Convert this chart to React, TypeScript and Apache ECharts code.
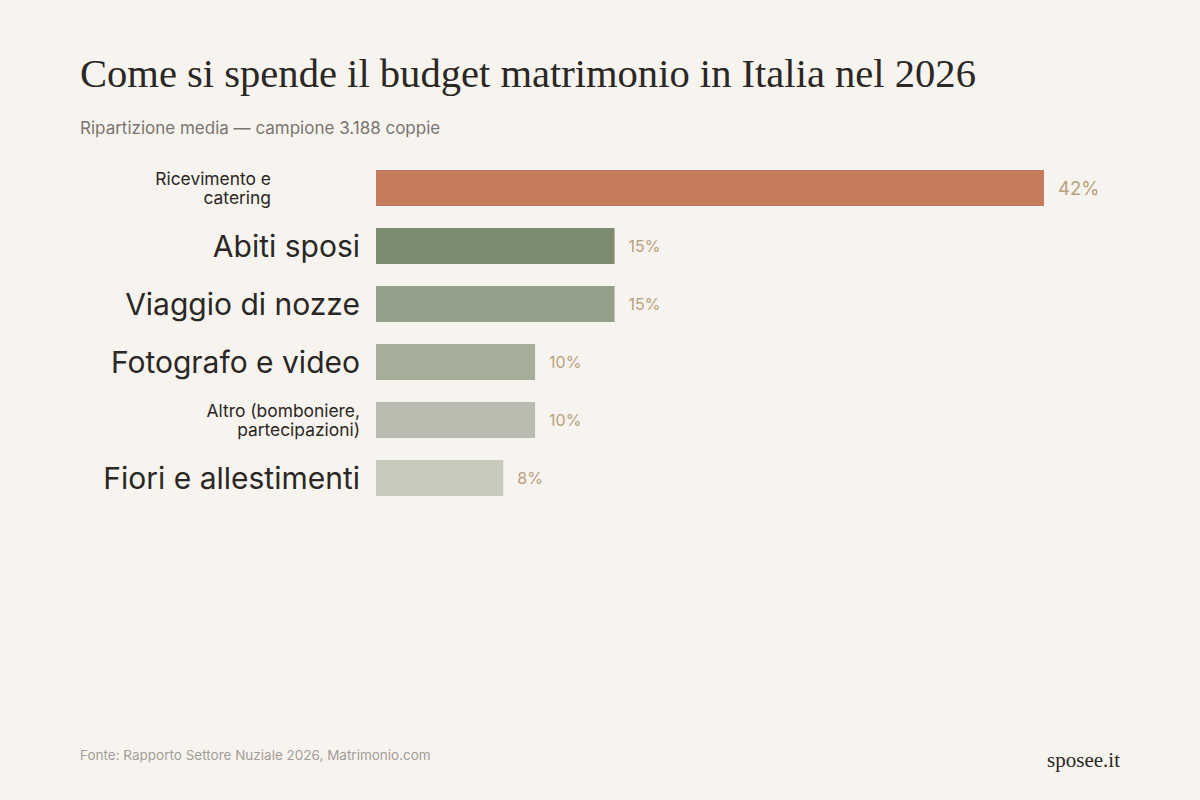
import React, { useEffect, useRef } from "react";
import * as echarts from "echarts";

const categories = [
  "Ricevimento e\ncatering",
  "Abiti sposi",
  "Viaggio di nozze",
  "Fotografo e video",
  "Altro (bomboniere,\npartecipazioni)",
  "Fiori e allestimenti",
];
const values = [42, 15, 15, 10, 10, 8];
const barColors = ["#c77b5d", "#7a8b70", "#94a089", "#a6ae9b", "#b9bdaf", "#c7c9bc"];
const labelStyles = ["smallPad", "big", "big", "big", "small", "big"];
const valueLabelSizes = [18.5, 16, 16, 16, 16, 16];

const TITLE = "Come si spende il budget matrimonio in Italia nel 2026";
const SUBTITLE = "Ripartizione media — campione 3.188 coppie";
const SOURCE = "Fonte: Rapporto Settore Nuziale 2026, Matrimonio.com";
const BRAND = "sposee.it";

export default function App() {
  const ref = useRef<HTMLDivElement>(null);
  useEffect(() => {
    document.body.style.margin = "0";
    const chart = echarts.init(ref.current!, null, { renderer: "svg" });
    const sans = "Inter, 'Noto Sans', sans-serif";
    const serif = "'Liberation Serif', 'DejaVu Serif', serif";
    chart.setOption({
      animation: false,
      backgroundColor: "#f7f4ef",
      grid: { left: 376, top: 159, height: 348, right: 156, containLabel: false },
      xAxis: {
        type: "value",
        min: 0,
        max: 42,
        show: false,
      },
      yAxis: {
        type: "category",
        inverse: true,
        data: categories,
        axisLine: { show: false },
        axisTick: { show: false },
        splitLine: { show: false },
        axisLabel: {
          margin: 16,
          align: "right",
          formatter: (v: string) => {
            const idx = categories.indexOf(v);
            const st = labelStyles[idx] || "big";
            return v
              .split("\n")
              .map((line) => `{${st}|${line}}`)
              .join("\n");
          },
          rich: {
            big: { fontSize: 30, fontFamily: sans, color: "#2b2724", lineHeight: 36 },
            small: { fontSize: 17.4, fontFamily: sans, color: "#2b2724", lineHeight: 19, align: "right" },
            smallPad: {
              fontSize: 17.4,
              fontFamily: sans,
              color: "#2b2724",
              lineHeight: 19,
              align: "right",
              padding: [0, 89, 0, 0],
            },
          },
        },
      },
      series: [
        {
          type: "bar",
          barWidth: 36,
          data: values.map((v, i) => ({
            value: v,
            itemStyle: { color: barColors[i] },
            label: { fontSize: valueLabelSizes[i] },
          })),
          label: {
            show: true,
            position: "right",
            distance: 14,
            formatter: "{c}%",
            color: "#b9a07c",
            fontFamily: sans,
          },
        },
      ],
      graphic: [
        {
          type: "text",
          left: 80,
          top: 53,
          style: { text: TITLE, font: `40.6px ${serif}`, fill: "#2b2724" },
        },
        {
          type: "text",
          left: 80,
          top: 119,
          style: { text: SUBTITLE, font: `17px ${sans}`, fill: "#7a7570" },
        },
        {
          type: "text",
          left: 80,
          top: 748,
          style: { text: SOURCE, font: `13.5px ${sans}`, fill: "#a39d97" },
        },
        {
          type: "text",
          right: 80,
          top: 749,
          style: { text: BRAND, font: `21px ${serif}`, fill: "#2b2724" },
        },
      ],
    });
    return () => chart.dispose();
  }, []);
  return <div ref={ref} style={{ width: 1200, height: 800 }} />;
}
